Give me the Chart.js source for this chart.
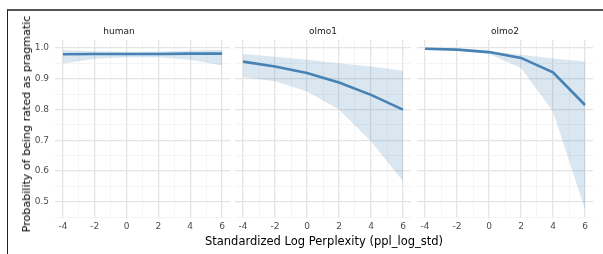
<!DOCTYPE html>
<html>
<head>
<meta charset="utf-8">
<script src="https://cdn.jsdelivr.net/npm/chart.js@4.4.1/dist/chart.umd.min.js"></script>
<style>
  html, body { margin: 0; padding: 0; background: #fff; }
  #wrap { position: relative; width: 603px; height: 254px; overflow: hidden;
          font-family: "DejaVu Sans", sans-serif; }
  #frame { position: absolute; left: 7px; top: 9px; right: 0; bottom: 0;
           border-top: 2px solid #555; border-left: 1px solid #222; }
  canvas { position: absolute; top: 10px; }
  .axis-title { position: absolute; color: #000; white-space: nowrap; line-height: 14px; }
  #xtitle { left: 324px; top: 234px; font-size: 11.5px; transform: translateX(-50%); }
  #ytitle { left: 27px; top: 124px; font-size: 11.1px;
            transform: translate(-50%, -50%) rotate(-90deg); }
</style>
</head>
<body>
<div id="wrap">
  <div id="frame"></div>
  <canvas id="c1" width="224" height="244" style="left:8px"></canvas>
  <canvas id="c2" width="182" height="244" style="left:232px"></canvas>
  <canvas id="c3" width="189" height="244" style="left:414px"></canvas>
  <div class="axis-title" id="ytitle">Probability of being rated as pragmatic</div>
  <div class="axis-title" id="xtitle">Standardized Log Perplexity (ppl_log_std)</div>
</div>
<script>
// x positions (standardized log perplexity)
const xValues = [-4, -2, 0, 2, 4, 6];

// predicted probability + ribbon, per facet
const humanMean  = [0.980, 0.981, 0.981, 0.981, 0.982, 0.982];
const humanLower = [0.950, 0.965, 0.970, 0.970, 0.962, 0.943];
const humanUpper = [0.994, 0.990, 0.988, 0.989, 0.992, 0.995];

const olmo1Mean  = [0.956, 0.940, 0.919, 0.888, 0.848, 0.800];
const olmo1Lower = [0.905, 0.892, 0.859, 0.800, 0.697, 0.567];
const olmo1Upper = [0.981, 0.972, 0.962, 0.951, 0.940, 0.926];

const olmo2Mean  = [0.998, 0.995, 0.987, 0.968, 0.921, 0.815];
const olmo2Lower = [0.997, 0.993, 0.981, 0.935, 0.794, 0.475];
const olmo2Upper = [0.999, 0.996, 0.990, 0.978, 0.966, 0.956];

const facetNames = ["human", "olmo1", "olmo2"];

// ticks / grid breaks
const xMajor = [-4, -2, 0, 2, 4, 6];
const xMinor = [-3, -1, 1, 3, 5];
const yMajor = [0.5, 0.6, 0.7, 0.8, 0.9, 1.0];
const yMinor = [0.45, 0.55, 0.65, 0.75, 0.85, 0.95];

const LINE = "#4682B4";
const RIBBON = "rgba(70,130,180,0.2)";
const FONT = "'DejaVu Sans', sans-serif";

const isMajorX = (v) => xMajor.includes(v);
const isMajorY = (v) => yMajor.some((m) => Math.abs(m - v) < 1e-6);

function points(ys) {
  return xValues.map((x, i) => ({ x: x, y: ys[i] }));
}

function makePanel(id, name, mean, lower, upper, opts) {
  const ctx = document.getElementById(id).getContext("2d");
  return new Chart(ctx, {
    type: "line",
    data: {
      datasets: [
        { data: points(lower), borderWidth: 0, pointRadius: 0, fill: false },
        { data: points(upper), borderWidth: 0, pointRadius: 0, fill: "-1",
          backgroundColor: RIBBON },
        { data: points(mean), borderColor: LINE, borderWidth: 2.6,
          pointRadius: 0, tension: 0, fill: false },
      ],
    },
    options: {
      responsive: false,
      animation: false,
      events: [],
      layout: { padding: { left: opts.padLeft, right: opts.padRight, top: 0, bottom: 0 } },
      plugins: {
        legend: { display: false },
        tooltip: { enabled: false },
        title: {
          display: true,
          text: name,
          color: "#1a1a1a",
          font: { family: FONT, size: 9, weight: "normal" },
          padding: { top: 16, bottom: 3.2 },
        },
      },
      scales: {
        x: {
          type: "linear",
          min: -4.5,
          max: 6.5,
          afterBuildTicks: (scale) => {
            scale.ticks = xMajor.concat(xMinor).sort((a, b) => a - b).map((v) => ({ value: v }));
          },
          afterFit: (scale) => { scale.height = 36; },
          border: { display: false },
          grid: {
            drawTicks: false,
            color: (c) => (isMajorX(c.tick.value) ? "#e4e4e4" : "#efefef"),
            lineWidth: (c) => (isMajorX(c.tick.value) ? 1.3 : 0.7),
          },
          ticks: {
            autoSkip: false,
            maxRotation: 0,
            padding: 3,
            color: "#4d4d4d",
            font: { family: FONT, size: 9 },
            callback: (v) => (isMajorX(v) ? String(v) : ""),
          },
        },
        y: {
          min: 0.4475,
          max: 1.0263,
          afterBuildTicks: (scale) => {
            scale.ticks = yMinor.concat(yMajor).sort((a, b) => a - b).map((v) => ({ value: v }));
          },
          afterFit: (scale) => { scale.width = opts.yWidth; },
          border: { display: false },
          grid: {
            drawTicks: false,
            color: (c) => (isMajorY(c.tick.value) ? "#e4e4e4" : "#efefef"),
            lineWidth: (c) => (isMajorY(c.tick.value) ? 1.3 : 0.7),
          },
          ticks: {
            display: opts.yLabels,
            autoSkip: false,
            padding: 6,
            color: "#4d4d4d",
            font: { family: FONT, size: 9 },
            callback: (v) => (isMajorY(v) ? v.toFixed(1) : ""),
          },
        },
      },
    },
  });
}

makePanel("c1", facetNames[0], humanMean, humanLower, humanUpper,
  { padLeft: 0, padRight: 2, yWidth: 47, yLabels: true });
makePanel("c2", facetNames[1], olmo1Mean, olmo1Lower, olmo1Upper,
  { padLeft: 3, padRight: 3, yWidth: 0, yLabels: false });
makePanel("c3", facetNames[2], olmo2Mean, olmo2Lower, olmo2Upper,
  { padLeft: 3, padRight: 10, yWidth: 0, yLabels: false });
</script>
</body>
</html>
